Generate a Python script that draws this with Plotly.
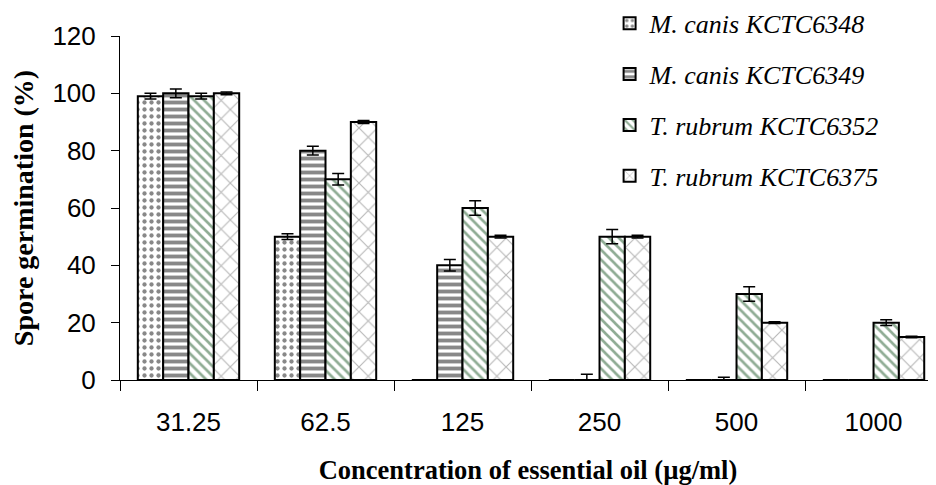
import plotly.graph_objects as go

categories = ["31.25", "62.5", "125", "250", "500", "1000"]
series_names = ["M. canis KCTC6348", "M. canis KCTC6349", "T. rubrum KCTC6352", "T. rubrum KCTC6375"]
v6348 = [99, 50, 0, 0, 0, 0]
v6349 = [100, 80, 40, 0, 0, 0]
v6352 = [99, 70, 60, 50, 30, 20]
v6375 = [100, 90, 50, 50, 20, 15]
e6348 = [1, 1, 0, 0, 0, 0]
e6349 = [1.5, 1.5, 2, 2, 1, 0]
e6352 = [1, 2, 2.5, 2.5, 2.5, 1]
e6375 = [0.5, 0.5, 0.5, 0.5, 0.3, 0.3]

values = [v6348, v6349, v6352, v6375]
errors = [e6348, e6349, e6352, e6375]
patterns = [
    dict(shape=".", fgcolor="#111111", bgcolor="white", size=7, solidity=0.3),
    dict(shape="-", fgcolor="#111111", bgcolor="white", size=7, solidity=0.55),
    dict(shape="\\", fgcolor="#1f5a2a", bgcolor="white", size=7, solidity=0.38),
    dict(shape="x", fgcolor="#707070", bgcolor="white", size=13, solidity=0.17),
]

fig = go.Figure()
for name, vals, errs, pat in zip(series_names, values, errors, patterns):
    fig.add_trace(go.Bar(
        x=categories, y=vals, name=name, legendgroup=name,
        marker=dict(color="white", line=dict(color="black", width=2), pattern=pat),
        error_y=dict(type="data", array=errs, visible=True, color="black", thickness=1.5, width=6),
    ))

serif = "Liberation Serif"
sans = "Liberation Sans"

# The page body has an 8px margin, so the figure is sized and offset to fit.
fig.update_layout(
    width=928, height=477,
    margin=dict(l=112, r=0, t=28, b=105, autoexpand=False),
    paper_bgcolor="white", plot_bgcolor="white",
    barmode="group", bargap=0.26, bargroupgap=0,
    showlegend=True,
    legend=dict(x=0.6, y=1.105, xref="paper", yref="paper", xanchor="left", yanchor="top",
                font=dict(family=serif, size=26, color="black", style="italic"),
                tracegroupgap=14, bgcolor="rgba(0,0,0,0)"),
    xaxis=dict(
        type="category", range=[-0.5, 5.456], automargin=False,
        showline=True, linecolor="black", linewidth=1,
        ticks="outside", tickson="boundaries", ticklen=10, tickcolor="black",
        tickfont=dict(family=sans, size=26, color="black"),
        ticklabelstandoff=19,
        title=dict(text="<b>Concentration of essential oil (µg/ml)</b>",
                   font=dict(family=serif, size=26.5, color="black"), standoff=27),
        showgrid=False, zeroline=False,
    ),
    yaxis=dict(
        range=[0, 120], dtick=20, automargin=False,
        showline=True, linecolor="black", linewidth=1,
        ticks="outside", ticklen=8, tickcolor="black",
        tickfont=dict(family=sans, size=26, color="black"),
        ticklabelstandoff=10,
        title=dict(text="<b>Spore germination (%)</b>",
                   font=dict(family=serif, size=28, color="black"), standoff=16),
        showgrid=False, zeroline=False,
    ),
)

fig.write_html("out.html")
